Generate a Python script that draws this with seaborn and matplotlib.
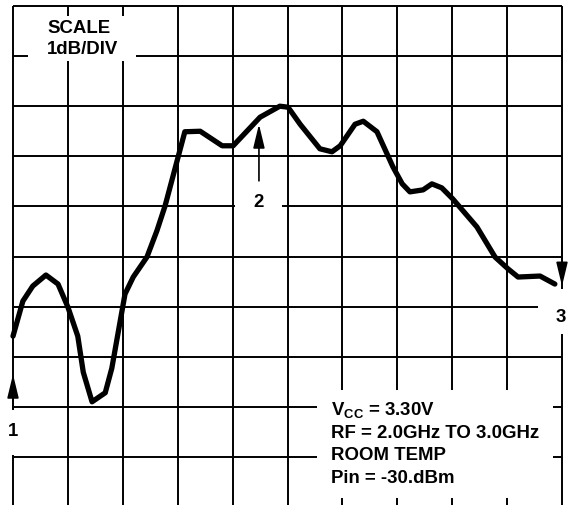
import numpy as np
import pandas as pd
import matplotlib
matplotlib.use("Agg")
import matplotlib.pyplot as plt
from matplotlib.patches import Rectangle
import seaborn as sns

sns.set_style("white")
plt.rcParams["font.family"] = ["Liberation Sans", "DejaVu Sans"]
plt.rcParams["mathtext.fontset"] = "custom"
plt.rcParams["mathtext.rm"] = "Liberation Sans:bold"
plt.rcParams["mathtext.bf"] = "Liberation Sans:bold"

# ---- trace (divisions) ----
freq_div = [0.00, 0.18, 0.36, 0.60, 0.82, 1.00, 1.18, 1.28, 1.44, 1.68,
            1.80, 2.04, 2.19, 2.44, 2.62, 2.77, 2.95, 3.13, 3.41, 3.81,
            4.01, 4.50, 4.86, 5.01, 5.23, 5.59, 5.81, 5.96, 6.23, 6.38,
            6.63, 6.92, 7.09, 7.23, 7.47, 7.63, 7.81, 8.01, 8.45, 8.78,
            9.02, 9.20, 9.60, 9.87]
level_div = [3.41, 4.11, 4.41, 4.63, 4.45, 3.99, 3.41, 2.69, 2.10, 2.28,
             2.77, 4.25, 4.59, 4.99, 5.51, 6.01, 6.75, 7.49, 7.50, 7.21,
             7.21, 7.78, 8.00, 7.98, 7.64, 7.15, 7.09, 7.21, 7.64, 7.70,
             7.49, 6.79, 6.45, 6.29, 6.33, 6.45, 6.37, 6.15, 5.59, 4.99,
             4.75, 4.59, 4.61, 4.45]

grid_x = list(range(11))
grid_y = list(range(11))

scale_lines = ["SCALE", "1dB/DIV"]
cond_lines = [r"V$_{\mathbf{CC}}$ = 3.30V", "RF = 2.0GHz TO 3.0GHz",
              "ROOM TEMP", "Pin = -30.dBm"]

df = pd.DataFrame({"freq": freq_div, "level": level_div})

fig = plt.figure(figsize=(5.68, 5.06), dpi=100)
ax = fig.add_axes([13 / 568, -2 / 506, 549 / 568, 501 / 506])

# graticule
ax.vlines(grid_x, 0, 10, color="black", lw=1.4, zorder=1, clip_on=False)
ax.hlines(grid_y, 0, 10, color="black", lw=1.4, zorder=1, clip_on=False)

# white cut-outs behind labels
for (x0, y0, w, h) in [(0.27, 8.90, 1.97, 0.90),
                       (4.05, 5.80, 0.85, 0.45),
                       (-0.3, 1.04, 0.6, 0.90),
                       (9.56, 3.45, 0.7, 0.90),
                       (5.54, 0.18, 4.30, 2.16)]:
    ax.add_patch(Rectangle((x0, y0), w, h, facecolor="white",
                           edgecolor="none", zorder=2, clip_on=False))

sns.lineplot(data=df, x="freq", y="level", color="black", lw=3.8,
             ax=ax, zorder=3, clip_on=False)
ax.set_xlim(0, 10)
ax.set_ylim(0, 10)
ax.axis("off")

# markers
arrow = dict(arrowstyle="-|>,head_length=1.45,head_width=0.35",
             color="black", lw=1.2, mutation_scale=10, shrinkA=0, shrinkB=0)
ax.annotate("", xy=(0, 2.65), xytext=(0, 1.98), arrowprops=arrow,
            annotation_clip=False, zorder=4)
ax.annotate("", xy=(4.48, 7.64), xytext=(4.48, 6.51), arrowprops=arrow,
            annotation_clip=False, zorder=4)
ax.annotate("", xy=(10, 4.41), xytext=(10, 5.3), arrowprops=arrow,
            annotation_clip=False, zorder=4)

tkw = dict(fontsize=13.4, fontweight="bold", color="black", zorder=5)
ax.text(0, 1.52, "1", ha="center", va="center", **tkw)
ax.text(4.48, 6.09, "2", ha="center", va="center", **tkw)
ax.text(9.98, 3.81, "3", ha="center", va="center", **tkw)

for i, s in enumerate(scale_lines):
    ax.text(0.62, 9.58 - i * 0.42, s, ha="left", va="center", **tkw)

for i, s in enumerate(cond_lines):
    ax.text(5.79, 1.94 - i * 0.45, s, ha="left", va="center", **tkw)

fig.savefig("out.png", dpi=100)
